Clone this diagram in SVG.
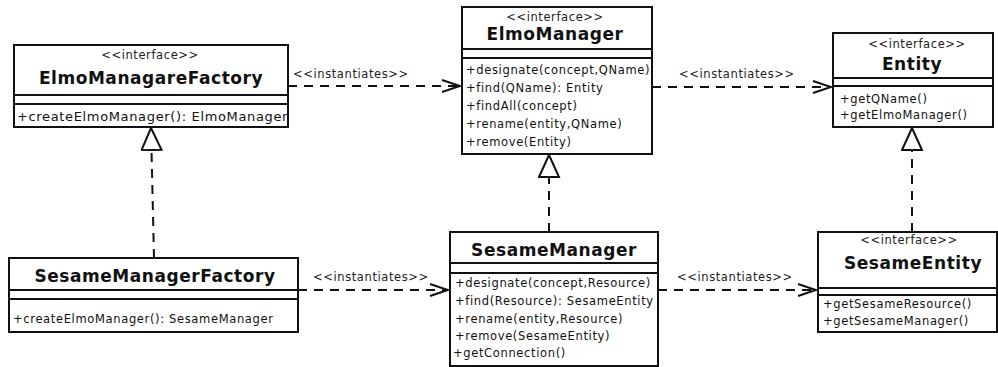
<svg xmlns="http://www.w3.org/2000/svg" width="998" height="367" viewBox="0 0 998 367">
<style>
  .box { fill: #fff; stroke: #111; stroke-width: 2; }
  .sep { stroke: #111; stroke-width: 2; }
  .st { font-family: "DejaVu Sans", sans-serif; font-size: 11.5px; letter-spacing: 0.6px; fill: #222; text-anchor: middle; }
  .ti { font-family: "DejaVu Sans", sans-serif; font-size: 17px; font-weight: bold; letter-spacing: 0.55px; fill: #111; text-anchor: middle; }
  .me { font-family: "DejaVu Sans", sans-serif; font-size: 11.5px; letter-spacing: 0.65px; fill: #111; }
  .lb { font-family: "DejaVu Sans", sans-serif; font-size: 11.5px; letter-spacing: 0.6px; fill: #222; }
  .dep { fill: none; stroke: #111; stroke-width: 2; stroke-dasharray: 9 7; marker-end: url(#open); }
  .gen { fill: none; stroke: #111; stroke-width: 2; stroke-dasharray: 9 7; marker-end: url(#tri); }
</style>
<defs>
  <marker id="open" markerUnits="userSpaceOnUse" markerWidth="22" markerHeight="16" refX="19" refY="7" orient="auto">
    <path d="M1,1 L19,7 L1,13" fill="none" stroke="#111" stroke-width="2"/>
  </marker>
  <marker id="tri" markerUnits="userSpaceOnUse" markerWidth="26" markerHeight="24" refX="23" refY="11" orient="auto">
    <path d="M1,1 L23,11 L1,21 Z" fill="#fff" stroke="#111" stroke-width="2"/>
  </marker>
</defs>
<rect width="998" height="367" fill="#fff"/>

<g id="connectors">
  <line class="dep" x1="288" y1="86" x2="460" y2="86"/>
  <text class="lb" x="293" y="78">&lt;&lt;instantiates&gt;&gt;</text>
  <line class="dep" x1="652" y1="87" x2="831" y2="87"/>
  <text class="lb" x="679" y="78">&lt;&lt;instantiates&gt;&gt;</text>
  <line class="dep" x1="298" y1="290" x2="448" y2="290"/>
  <text class="lb" x="313" y="281">&lt;&lt;instantiates&gt;&gt;</text>
  <line class="dep" x1="658" y1="290" x2="816" y2="290"/>
  <text class="lb" x="677" y="281">&lt;&lt;instantiates&gt;&gt;</text>
  <line class="gen" x1="154" y1="258" x2="151" y2="128"/>
  <line class="gen" x1="549" y1="232" x2="549" y2="155"/>
  <line class="gen" x1="912" y1="232" x2="912" y2="128"/>
</g>

<g id="ElmoManagareFactory">
  <rect class="box" x="14" y="45" width="274" height="82"/>
  <line class="sep" x1="14" y1="95" x2="288" y2="95"/>
  <line class="sep" x1="14" y1="104" x2="288" y2="104"/>
  <text class="st" x="150" y="59">&lt;&lt;interface&gt;&gt;</text>
  <text class="ti" x="151" y="84">ElmoManagareFactory</text>
  <text class="me" x="17" y="121" style="font-size:13px">+createElmoManager(): ElmoManager</text>
</g>

<g id="ElmoManager">
  <rect class="box" x="462" y="7" width="190" height="147"/>
  <line class="sep" x1="462" y1="49" x2="652" y2="49"/>
  <line class="sep" x1="462" y1="58" x2="652" y2="58"/>
  <text class="st" x="555" y="21">&lt;&lt;interface&gt;&gt;</text>
  <text class="ti" x="555" y="40">ElmoManager</text>
  <text class="me" x="466" y="74">+designate(concept,QName)</text>
  <text class="me" x="466" y="92">+find(QName): Entity</text>
  <text class="me" x="466" y="110">+findAll(concept)</text>
  <text class="me" x="466" y="128">+rename(entity,QName)</text>
  <text class="me" x="466" y="146">+remove(Entity)</text>
</g>

<g id="Entity">
  <rect class="box" x="833" y="33" width="160" height="94"/>
  <line class="sep" x1="833" y1="78" x2="993" y2="78"/>
  <line class="sep" x1="833" y1="86" x2="993" y2="86"/>
  <text class="st" x="917" y="48">&lt;&lt;interface&gt;&gt;</text>
  <text class="ti" x="912" y="70">Entity</text>
  <text class="me" x="840" y="103">+getQName()</text>
  <text class="me" x="840" y="119">+getElmoManager()</text>
</g>

<g id="SesameManagerFactory">
  <rect class="box" x="9" y="258" width="289" height="74"/>
  <line class="sep" x1="9" y1="290" x2="298" y2="290"/>
  <line class="sep" x1="9" y1="299" x2="298" y2="299"/>
  <text class="ti" x="155" y="282">SesameManagerFactory</text>
  <text class="me" x="13" y="323">+createElmoManager(): SesameManager</text>
</g>

<g id="SesameManager">
  <rect class="box" x="450" y="232" width="208" height="134"/>
  <line class="sep" x1="450" y1="263" x2="658" y2="263"/>
  <line class="sep" x1="450" y1="273" x2="658" y2="273"/>
  <text class="ti" x="554" y="256">SesameManager</text>
  <text class="me" x="455" y="287">+designate(concept,Resource)</text>
  <text class="me" x="455" y="305">+find(Resource): SesameEntity</text>
  <text class="me" x="455" y="323">+rename(entity,Resource)</text>
  <text class="me" x="455" y="340">+remove(SesameEntity)</text>
  <text class="me" x="453" y="357">+getConnection()</text>
</g>

<g id="SesameEntity">
  <rect class="box" x="818" y="232" width="179" height="100"/>
  <line class="sep" x1="818" y1="288" x2="997" y2="288"/>
  <line class="sep" x1="818" y1="295" x2="997" y2="295"/>
  <text class="st" x="909" y="244">&lt;&lt;interface&gt;&gt;</text>
  <text class="ti" x="913" y="269">SesameEntity</text>
  <text class="me" x="823" y="308">+getSesameResource()</text>
  <text class="me" x="823" y="325">+getSesameManager()</text>
</g>
</svg>
